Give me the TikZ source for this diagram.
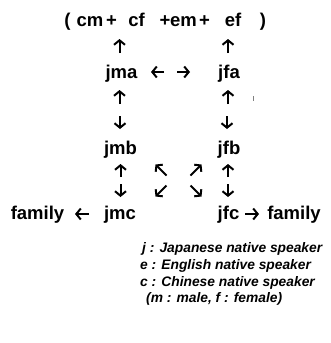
\documentclass[tikz,border=0pt]{standalone}
\usepackage{fontspec}
\setmainfont{Liberation Sans}
\usetikzlibrary{arrows.meta}
\begin{document}
\begin{tikzpicture}[x=1pt,y=-1pt,
  word/.style={inner sep=0pt,anchor=base,font=\fontsize{18.5}{18}\selectfont\bfseries},
  arr/.style={line width=2pt,-{Straight Barb[length=4.5pt,width=11pt,line width=2pt]}},
  darr/.style={line width=2pt,-{Straight Barb[length=4pt,width=10pt,line width=2pt]}},
  legend/.style={inner sep=0pt,anchor=base west,font=\fontsize{13.8}{14}\selectfont\bfseries\itshape}]
\useasboundingbox (0,0) rectangle (331,343);
% top line
\node[word] (lp) at (67.5,26) {(};
\node[word] (cm) at (90,26) {cm};
\node[word] (p1) at (111.5,26) {+};
\node[word] (cf) at (136.5,26) {cf};
\node[word] (p2) at (165,26) {+};
\node[word] (em) at (183.5,26) {em};
\node[word] (p3) at (204.5,26) {+};
\node[word] (ef) at (233,26) {ef};
\node[word] (rp) at (263,26) {)};
% jma row
\node[word] (jma) at (121.5,78) {jma};
\node[word] (jfa) at (229,78) {jfa};
% b row
\node[word] (jmb) at (120.5,154) {jmb};
\node[word] (jfb) at (229,154) {jfb};
% c row
\node[word] (fam1) at (37.5,219) {family};
\node[word] (jmc) at (120,219) {jmc};
\node[word] (jfc) at (228.5,219) {jfc};
\node[word] (fam2) at (294,219) {family};
% arrow glyphs
\coordinate (u1a) at (119.5,53); \coordinate (u1b) at (119.5,39);
\coordinate (u2a) at (228,53);   \coordinate (u2b) at (228,39);
\coordinate (l1a) at (164,72);   \coordinate (l1b) at (151,72);
\coordinate (r1a) at (177,72);   \coordinate (r1b) at (190,72);
\coordinate (u3a) at (119.5,104); \coordinate (u3b) at (119.5,90);
\coordinate (u4a) at (228,104);   \coordinate (u4b) at (228,90);
\coordinate (d1a) at (120,116);  \coordinate (d1b) at (120,129);
\coordinate (d2a) at (227,116);  \coordinate (d2b) at (227,129);
\coordinate (u5a) at (120.5,177); \coordinate (u5b) at (120.5,164);
\coordinate (u6a) at (228,177);   \coordinate (u6b) at (228,164);
\coordinate (nwa) at (166.5,175.5);  \coordinate (nwb) at (155.5,164.5);
\coordinate (nea) at (190.5,175.5);  \coordinate (neb) at (201.5,164.5);
\coordinate (d3a) at (120.5,184); \coordinate (d3b) at (120.5,197);
\coordinate (d4a) at (228,184);   \coordinate (d4b) at (228,197);
\coordinate (swa) at (166.5,185.5);  \coordinate (swb) at (155.5,196.5);
\coordinate (sea) at (190.5,185.5);  \coordinate (seb) at (201.5,196.5);
\coordinate (l2a) at (89,214);   \coordinate (l2b) at (75,214);
\coordinate (r2a) at (245,214);  \coordinate (r2b) at (259,214);
\foreach \n in {u1,u2,l1,r1,u3,u4,d1,d2,u5,u6,d3,d4,l2,r2}
  \draw[arr] (\n a) -- (\n b);
\foreach \n in {nw,ne,sw,se}
  \draw[darr] (\n a) -- (\n b);
\draw[gray,line width=1pt] (253,96) -- (253,101);
% legend
\node[legend] (lg1) at (142,252) {j : Japanese native speaker};
\node[legend] (lg2) at (140,269) {e : English native speaker};
\node[legend] (lg3) at (140,286) {c : Chinese native speaker};
\node[legend] (lg4) at (146,302) {(m : male, f : female)};
\end{tikzpicture}
\end{document}
